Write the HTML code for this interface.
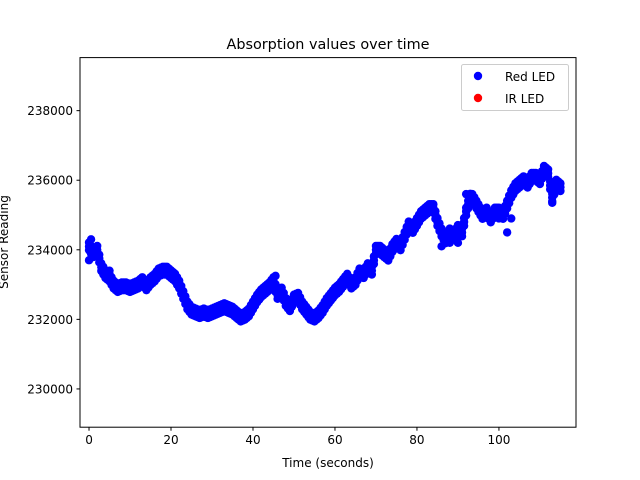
<!DOCTYPE html>
<html><head><meta charset="utf-8"><style>
body{margin:0;background:#fff;}
svg{display:block;font-family:"DejaVu Sans","Liberation Sans",sans-serif;}
</style></head><body>
<svg id="chart" width="640" height="480" viewBox="0 0 640 480">
<rect width="640" height="480" fill="#fff"/>
<text x="328" y="49" font-size="14.4" text-anchor="middle">Absorption values over time</text>
<g id="marks"></g>
<g id="axes"></g>
<rect x="80" y="57.6" width="496" height="369.6" fill="none" stroke="#000" stroke-width="1"/>
<text x="328" y="467" font-size="12" text-anchor="middle">Time (seconds)</text>
<text transform="translate(8,242) rotate(-90)" font-size="12" text-anchor="middle">Sensor Reading</text>
<g>
<rect x="461.5" y="64.5" width="107" height="46" rx="2" fill="#fff" stroke="#ccc"/>
<circle cx="478" cy="76" r="4.2" fill="#0000ff"/>
<text x="505" y="81" font-size="12">Red LED</text>
<circle cx="478" cy="98" r="4.2" fill="#ff0000"/>
<text x="505" y="103" font-size="12">IR LED</text>
</g>
</svg>
<script>
const times = [];
for (let i = 0; i <= 115; i++) times.push(i);
const redValues = [234100,233900,234000,233500,233300,233200,233000,232900,232950,232950,
232900,232950,233000,233100,232950,233100,233200,233350,233400,233400,
233300,233200,233000,232700,232400,232250,232200,232150,232200,232150,
232200,232250,232300,232350,232300,232250,232150,232050,232100,232200,
232400,232600,232750,232850,232950,233100,232700,232800,232500,232350,
232600,232650,232400,232250,232100,232050,232150,232300,232500,232650,
232800,232900,233050,233200,233000,233100,233350,233300,233500,233400,
234000,234000,233900,233800,234050,234200,234100,234400,234700,234600,
234800,235000,235100,235200,235200,234800,234500,234300,234500,234400,
234600,234500,235100,235500,235400,235200,235000,235100,234900,235100,
235100,235000,235300,235600,235800,235900,236000,235900,236100,236100,
236000,236300,236200,235500,235900,235800];
const extraTimes = [0,0.5,5,45.5,49,70.5,86,88,90,92,93.5,100,102,103,113];
const extraValues = [233700,234300,233400,233250,232250,234100,234100,234200,234200,235600,235600,234900,234500,234900,235350];
const xTicks = [0,20,40,60,80,100];
const yTicks = [230000,232000,234000,236000,238000];
const bandHalf = 110; // visual thickness of the dense noisy band

const X0=80,X1=576,Y0=57.6,Y1=427.2, xMin=-2.2, xMax=118.8, yMin=228900, yMax=239525;
function xs(t){return X0+(t-xMin)/(xMax-xMin)*(X1-X0);}
function ys(v){return Y1-(v-yMin)/(yMax-yMin)*(Y1-Y0);}
const NS="http://www.w3.org/2000/svg";
const marks=document.getElementById('marks');
function pt(t,v){
  const c=document.createElementNS(NS,'circle');
  c.setAttribute('cx',xs(t));c.setAttribute('cy',ys(v));c.setAttribute('r',4.2);c.setAttribute('fill','#0000ff');
  
  
  marks.appendChild(c);
}
function thick(t,v){pt(t,v-bandHalf);pt(t,v);pt(t,v+bandHalf);}
for(let i=0;i<times.length-1;i++){
  thick(times[i],redValues[i]);
  thick((times[i]+times[i+1])/2,(redValues[i]+redValues[i+1])/2);
}
thick(times[times.length-1],redValues[redValues.length-1]);
for(let i=0;i<extraTimes.length;i++) pt(extraTimes[i],extraValues[i]);

const axes=document.getElementById('axes');
xTicks.forEach(t=>{
  const x=xs(t);
  const l=document.createElementNS(NS,'line');
  l.setAttribute('x1',x);l.setAttribute('x2',x);l.setAttribute('y1',Y1);l.setAttribute('y2',Y1+3.5);l.setAttribute('stroke','#000');
  
  
  axes.appendChild(l);
  const tx=document.createElementNS(NS,'text');
  tx.setAttribute('x',x);tx.setAttribute('y',Y1+17);tx.setAttribute('font-size','12');tx.setAttribute('text-anchor','middle');
  tx.textContent=t;
  
  
  axes.appendChild(tx);
});
yTicks.forEach(v=>{
  const y=ys(v);
  const l=document.createElementNS(NS,'line');
  l.setAttribute('x1',X0-3.5);l.setAttribute('x2',X0);l.setAttribute('y1',y);l.setAttribute('y2',y);l.setAttribute('stroke','#000');
  
  
  axes.appendChild(l);
  const tx=document.createElementNS(NS,'text');
  tx.setAttribute('x',X0-7);tx.setAttribute('y',y+4.5);tx.setAttribute('font-size','12');tx.setAttribute('text-anchor','end');
  tx.textContent=v;
  
  
  axes.appendChild(tx);
});
</script>
</body></html>
